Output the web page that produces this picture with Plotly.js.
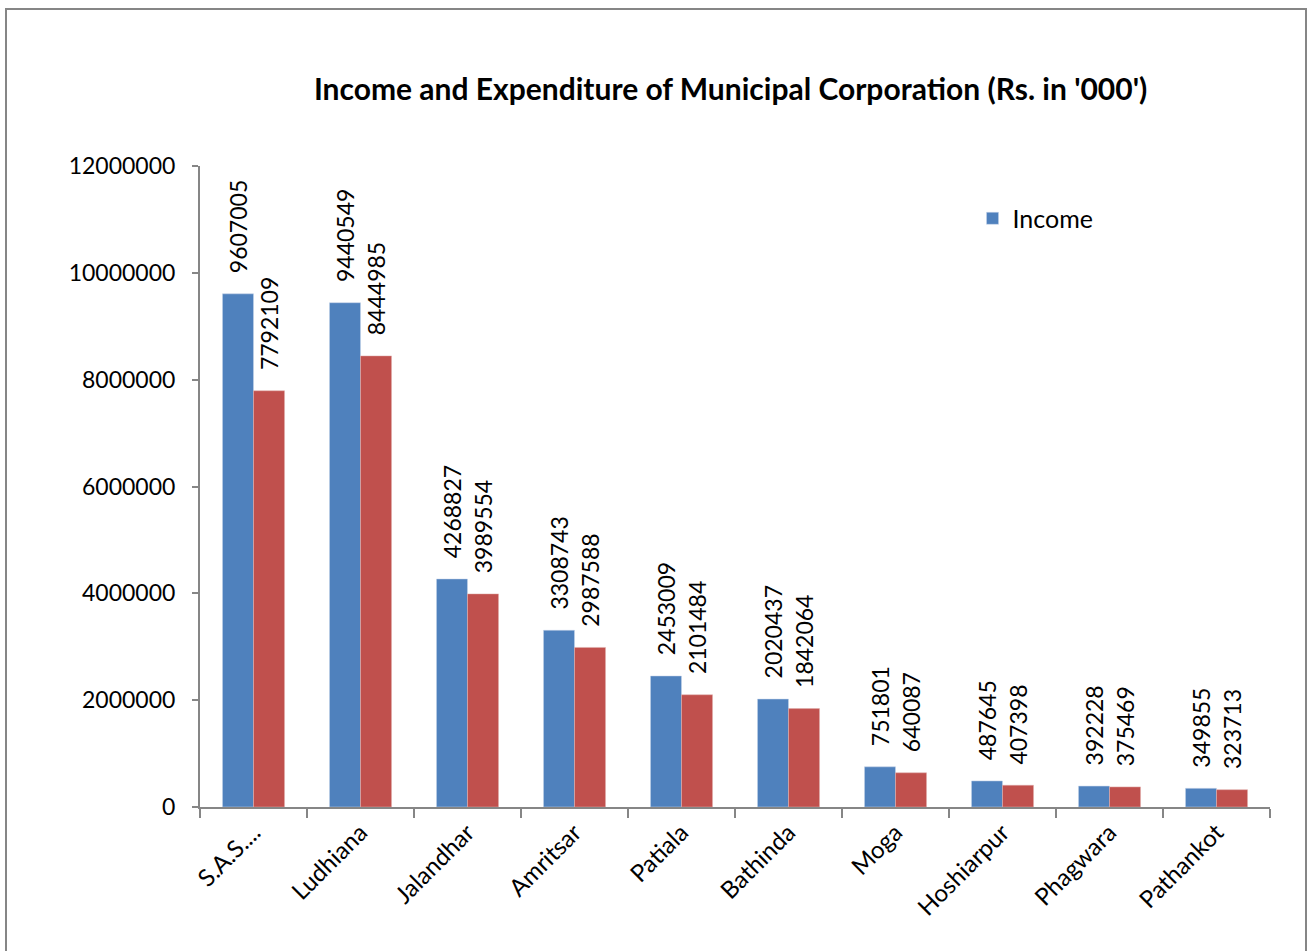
<!DOCTYPE html>
<html>
<head>
<meta charset="utf-8">
<script src="https://cdn.plot.ly/plotly-3.0.1.min.js"></script>
<style>
html,body{margin:0;padding:0;background:#fff;}
#frame{position:absolute;left:5px;top:8px;width:1302px;height:960px;border:2px solid #868686;box-sizing:border-box;pointer-events:none;z-index:10;}
#chart{width:1314px;height:951px;}
</style>
</head>
<body>
<div id="frame"></div>
<div id="chart"></div>
<script>
const categories = ["S.A.S....", "Ludhiana", "Jalandhar", "Amritsar", "Patiala", "Bathinda", "Moga", "Hoshiarpur", "Phagwara", "Pathankot"];
const income = [9607005, 9440549, 4268827, 3308743, 2453009, 2020437, 751801, 487645, 392228, 349855];
const expenditure = [7792109, 8444985, 3989554, 2987588, 2101484, 1842064, 640087, 407398, 375469, 323713];
const yTicks = [0, 2000000, 4000000, 6000000, 8000000, 10000000, 12000000];

const fontFam = "Lato, 'Open Sans', sans-serif";
const pad = "\u00a0\u00a0\u00a0";
const traces = [
  {type:'bar', name:'Income', x:categories, y:income, marker:{color:'#4F81BD', line:{color:'#c8d6ea', width:0.5}},
   text:income.map(v => pad + v), textposition:'outside', textangle:-90, cliponaxis:false, constraintext:'none',
   textfont:{family:fontFam, size:23, color:'#000'}, showlegend:true},
  {type:'bar', name:'Expenditure', x:categories, y:expenditure, marker:{color:'#C0504D', line:{color:'#e0b0ae', width:0.5}},
   text:expenditure.map(v => pad + v), textposition:'outside', textangle:-90, cliponaxis:false, constraintext:'none',
   textfont:{family:fontFam, size:23, color:'#000'}, showlegend:false}
];
const layout = {
  width:1314, height:951,
  margin:{l:200, r:44, t:166, b:144},
  paper_bgcolor:'#fff', plot_bgcolor:'#fff',
  barmode:'group', bargap:0.42, bargroupgap:0,
  font:{family:fontFam, size:23, color:'#000'},
  title:{text:"<b>Income and Expenditure of Municipal Corporation (Rs. in '000')</b>", x:0.556, xanchor:'center', y:0.906, yanchor:'middle', font:{family:fontFam, size:30, color:'#000'}},
  xaxis:{type:'category', tickangle:-45, showline:true, linecolor:'#868686', linewidth:2, ticks:'outside', tickson:'boundaries', ticklen:9, tickcolor:'#868686', tickwidth:2, showgrid:false, tickfont:{family:fontFam, size:24, color:'#000'}},
  yaxis:{range:[0,12000000], tickvals:yTicks, ticktext:yTicks.map(String), showline:true, linecolor:'#868686', linewidth:2, ticks:'outside', ticklen:6, tickcolor:'#868686', tickwidth:2, ticklabelstandoff:12, showgrid:false, zeroline:false, tickfont:{family:fontFam, size:23, color:'#000'}},
  legend:{x:0.722, y:0.918, xanchor:'left', yanchor:'middle', bgcolor:'rgba(0,0,0,0)', font:{family:fontFam, size:25, color:'#000'}}
};
Plotly.newPlot('chart', traces, layout, {displayModeBar:false, staticPlot:true});
</script>
</body>
</html>
